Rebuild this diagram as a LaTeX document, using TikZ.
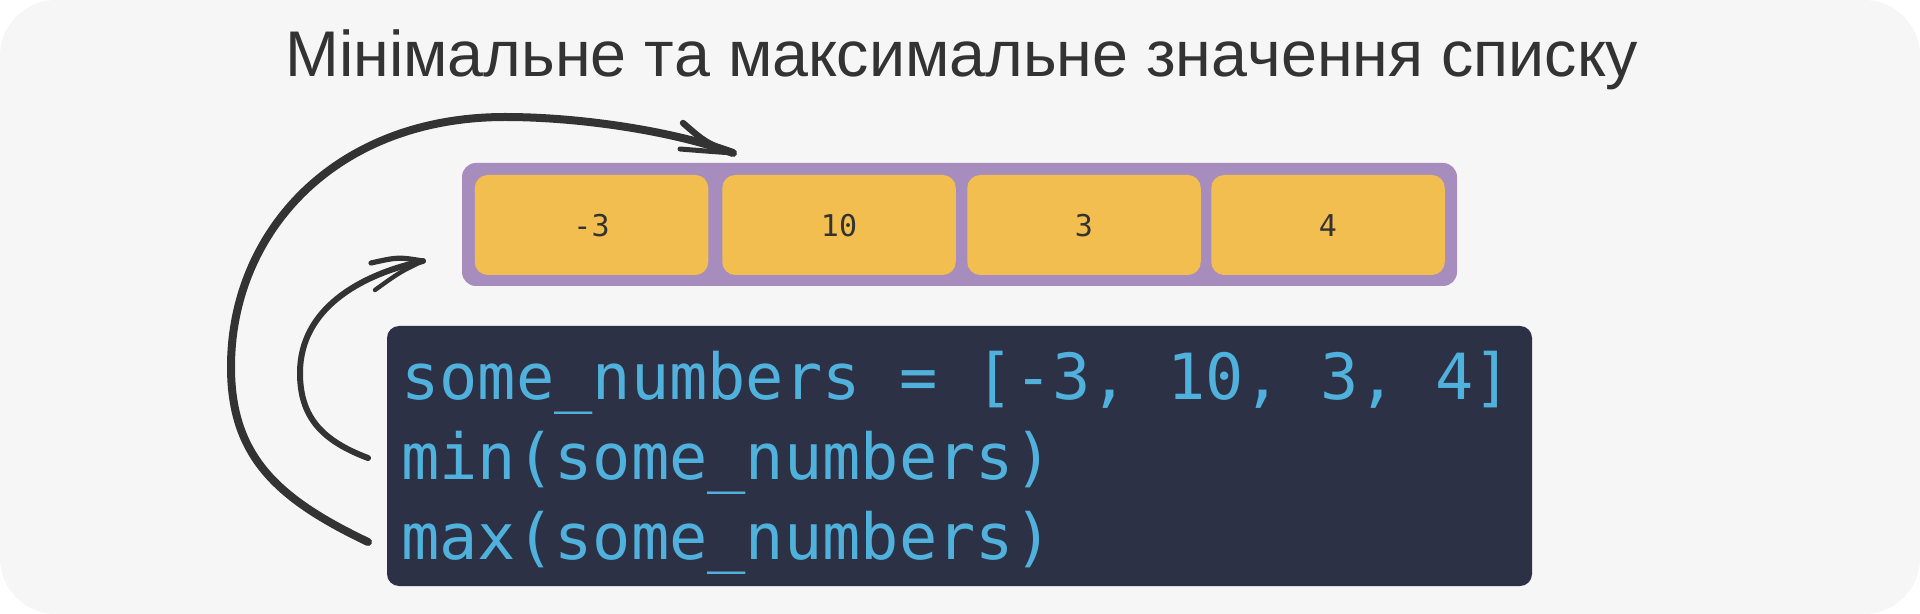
\documentclass[tikz,border=0pt]{standalone}
\usepackage{fontspec}
\setmainfont{Liberation Sans}
\newfontfamily\titlefont[Kerning=Off]{Liberation Sans}
\newfontfamily\codefont{DejaVu Sans Mono}
\definecolor{bgc}{HTML}{F6F6F6}
\definecolor{ink}{HTML}{333333}
\definecolor{arrpurple}{HTML}{A68DBD}
\definecolor{cellyellow}{HTML}{F2BE4F}
\definecolor{codebg}{HTML}{2D3146}
\definecolor{codeblue}{HTML}{50B2DC}
\frenchspacing
\begin{document}
\begin{tikzpicture}[x=0.5pt,y=-0.5pt,
  box/.style={inner sep=0pt, outer sep=0pt, draw=none},
  arraybox/.style={box, fill=arrpurple, minimum width=497.5pt, minimum height=61.5pt, rounded corners=7pt},
  cellbox/.style={box, fill=cellyellow, minimum width=116.75pt, minimum height=50pt, rounded corners=6.5pt,
    text=ink, font=\codefont\fontsize{15pt}{18pt}\selectfont, text height=12pt, text depth=0pt},
  codebox/.style={box, fill=codebg, minimum width=572.5pt, minimum height=130pt, rounded corners=6pt},
  codeline/.style={anchor=base west, inner sep=0pt, text=codeblue, font=\codefont\fontsize{31.8pt}{38pt}\selectfont},
  titletext/.style={anchor=base, inner sep=0pt, text=ink, font=\titlefont\fontsize{32.3pt}{38pt}\selectfont},
  shaft/.style={draw=ink, line cap=round, line join=round},
  barb/.style={draw=ink, line cap=round, line join=round}
]
\useasboundingbox (0,0) rectangle (1920,614);
\fill[white] (0,0) rectangle (1920,614);
\fill[bgc, rounded corners=28pt] (0,0) rectangle (1920,614);

% title
\node[titletext] (title) at (961.5,77) {Мінімальне та максимальне значення списку};

% list
\node[arraybox] (arr) at (959.5,224.5) {};
\node[cellbox] (c1) at (591.5,225) {-3};
\node[cellbox] (c2) at (839,225) {10};
\node[cellbox] (c3) at (1084,225) {3};
\node[cellbox] (c4) at (1328,225) {4};

% code
\node[codebox] (code) at (959.5,456) {};
\node[codeline] (l1) at (401,399) {some\_numbers = [-3, 10, 3, 4]};
\node[codeline] (l2) at (401,479) {min(some\_numbers)};
\node[codeline] (l3) at (401,559) {max(some\_numbers)};

% connector end points
\coordinate (maxstart) at (368,542);
\coordinate (maxtip) at (733,153);
\coordinate (minstart) at (368,458);
\coordinate (mintip) at (423,261);

% big arrow (max)
\draw[shaft, line width=4pt] (maxstart)
  .. controls (278,499) and (231,457) .. (231,367)
  .. controls (231,232) and (335,117) .. (505,117)
  .. controls (580,117) and (673,131) .. (maxtip);
\draw[barb, line width=3.2pt] (683,123) .. controls (706,143) .. (maxtip);
\draw[barb, line width=2.5pt] (680,149) .. controls (705,151) .. (maxtip);

% small arrow (min)
\draw[shaft, line width=3pt] (minstart)
  .. controls (323,441) and (300,418) .. (300,373)
  .. controls (300,310) and (358,275) .. (mintip);
\draw[barb, line width=2.6pt] (371,263) .. controls (398,257) .. (mintip);
\draw[barb, line width=2.2pt] (375,290) .. controls (400,272) .. (mintip);
\end{tikzpicture}
\end{document}
